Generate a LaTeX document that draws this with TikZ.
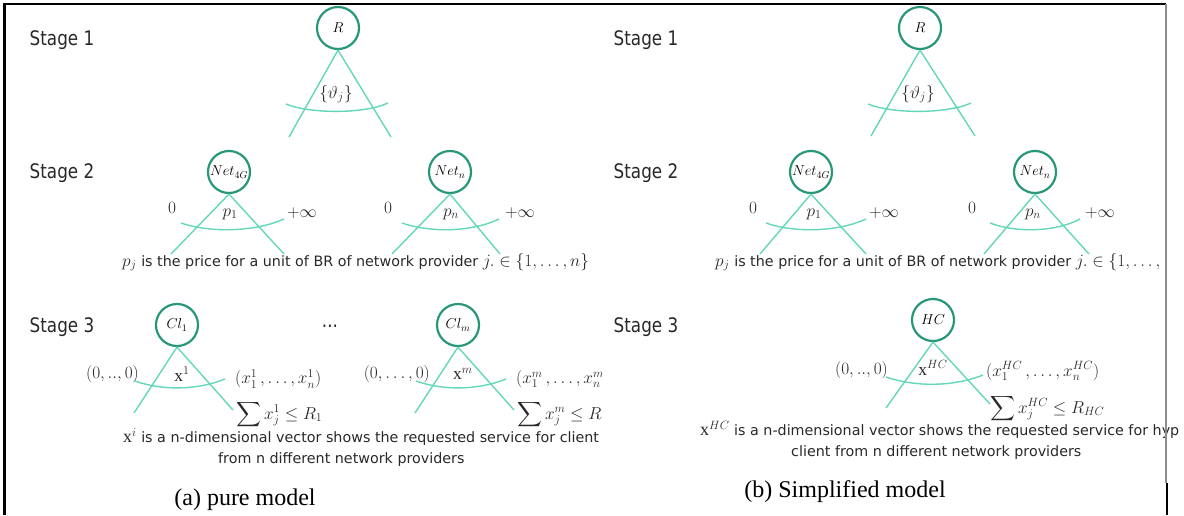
\documentclass[tikz,border=0pt]{standalone}
\usepackage{fontspec}
\usepackage{exscale}
\setmainfont{Liberation Serif}
\newfontfamily\labfont{DejaVu Sans}
\newfontfamily\stagefont[FakeStretch=0.84]{DejaVu Sans}
\newcommand{\mth}[1]{{\fontsize{18}{18}\selectfont$#1$}}
\definecolor{circc}{RGB}{40,150,120}
\definecolor{linc}{RGB}{100,215,185}
\definecolor{txtc}{RGB}{40,40,40}
\definecolor{framegray}{RGB}{140,140,140}
\begin{document}
\begin{tikzpicture}[x=1pt,y=-1pt,
  circ/.style={circle, draw=circc, line width=2.2pt, minimum size=42pt, inner sep=0pt, font=\fontsize{14}{14}\selectfont},
  leg/.style={draw=linc, line width=1.4pt},
  stagelab/.style={font=\stagefont\fontsize{20}{24}\selectfont, text=txtc, inner sep=0pt},
  lab/.style={font=\labfont\fontsize{14.3}{18}\selectfont, text=txtc, inner sep=0pt},
  mlab/.style={font=\fontsize{17}{19}\selectfont, text=txtc, inner sep=0pt},
  vlab/.style={font=\fontsize{17.5}{20}\selectfont, text=txtc, inner sep=0pt},
  sumlab/.style={font=\fontsize{16.5}{20}\selectfont, text=txtc, inner sep=0pt},
  captext/.style={font=\fontsize{24}{28}\selectfont, inner sep=0pt},
  frameline/.style={line width=2.5pt}]
\useasboundingbox (0,0) rectangle (1184,515);
% ---------------- left panel
\begin{scope}
\clip (0,0) rectangle (601,515);
\node[stagelab] (s1a) at (62,40) {Stage 1};
\node[stagelab] (s2a) at (62,173) {Stage 2};
\node[stagelab] (s3a) at (62,327) {Stage 3};
% stage 1
\node[circ] (Ra) at (338,28) {$R$};
\coordinate (Ral) at (289,137); \coordinate (Rar) at (391,137);
\draw[leg] (Ra.south) -- (Ral); \draw[leg] (Ra.south) -- (Rar);
\coordinate (Raa) at (286,104); \coordinate (Rab) at (388,103);
\draw[leg] (Raa) .. controls (310,114) and (365,114) .. (Rab);
\node[mlab] (tha) at (336,94) {$\{\vartheta_j\}$};
% stage 2
\node[circ] (N1a) at (229,172) {$Net_{4G}$};
\coordinate (N1al) at (171,254); \coordinate (N1ar) at (284,254);
\draw[leg] (N1a.south) -- (N1al); \draw[leg] (N1a.south) -- (N1ar);
\coordinate (N1aa) at (181,223); \coordinate (N1ab) at (284,219);
\draw[leg] (N1aa) .. controls (210,233) and (255,232) .. (N1ab);
\node[mlab] (z1a) at (172,208) {$0$};
\node[mlab] (p1a) at (230,214) {$p_1$};
\node[mlab] (i1a) at (302,213) {$+\infty$};
\node[circ] (N2a) at (450,172) {$Net_n$};
\coordinate (N2al) at (392,254); \coordinate (N2ar) at (500,254);
\draw[leg] (N2a.south) -- (N2al); \draw[leg] (N2a.south) -- (N2ar);
\coordinate (N2aa) at (402,223); \coordinate (N2ab) at (499,219);
\draw[leg] (N2aa) .. controls (431,233) and (472,232) .. (N2ab);
\node[mlab] (z2a) at (388,208) {$0$};
\node[mlab] (p2a) at (451,214) {$p_n$};
\node[mlab] (i2a) at (520,213) {$+\infty$};
\node[lab, anchor=west] (pja) at (122,262) {\mth{p_j} is the price for a unit of BR of network provider \mth{j.\in\{1,\dots,n\}}};
% stage 3
\node[circ] (C1a) at (177,325) {$Cl_1$};
\node[stagelab] (dots) at (330,326) {...};
\coordinate (C1al) at (134,413); \coordinate (C1ar) at (233,410);
\draw[leg] (C1a.south) -- (C1al); \draw[leg] (C1a.south) -- (C1ar);
\coordinate (C1aa) at (135,381); \coordinate (C1ab) at (225,379);
\draw[leg] (C1aa) .. controls (163,391) and (198,390) .. (C1ab);
\node[vlab, anchor=east] (o1a) at (139,374) {$(0,..,0)$};
\node[vlab] (x1a) at (182,374) {$\mathrm{x}^1$};
\node[vlab, anchor=west] (v1a) at (235,379) {$(x_1^1\,,\dots,x_n^1)$};
\node[sumlab, anchor=west] (q1a) at (236,415) {$\displaystyle\sum x_j^1\le R_1$};
\node[circ] (C2a) at (458,325) {$Cl_m$};
\coordinate (C2al) at (415,413); \coordinate (C2ar) at (514,410);
\draw[leg] (C2a.south) -- (C2al); \draw[leg] (C2a.south) -- (C2ar);
\coordinate (C2aa) at (416,381); \coordinate (C2ab) at (506,379);
\draw[leg] (C2aa) .. controls (444,391) and (479,390) .. (C2ab);
\node[vlab, anchor=east] (o2a) at (430,374) {$(0,\dots,0)$};
\node[vlab] (x2a) at (463,374) {$\mathrm{x}^m$};
\node[vlab, anchor=west] (v2a) at (516,379) {$(x_1^m\,,\dots,x_n^m)$};
\node[sumlab, anchor=west] (q2a) at (517,415) {$\displaystyle\sum x_j^m\le R_m$};
\node[lab, anchor=west] (xia) at (123,437) {\mth{\mathrm{x}^i} is a n-dimensional vector shows the requested service for client \mth{i}};
\node[lab, anchor=west] (fra) at (218,460) {from n different network providers};
\node[captext] (capa) at (245,500) {(a) pure model};
\end{scope}
% ---------------- right panel
\node[stagelab] (s1b) at (646,40) {Stage 1};
\node[stagelab] (s2b) at (646,173) {Stage 2};
\node[stagelab] (s3b) at (646,327) {Stage 3};
\node[circ] (Rb) at (920,28) {$R$};
\coordinate (Rbl) at (871,136); \coordinate (Rbr) at (975,136);
\draw[leg] (Rb.south) -- (Rbl); \draw[leg] (Rb.south) -- (Rbr);
\coordinate (Rba) at (868,104); \coordinate (Rbb) at (971,103);
\draw[leg] (Rba) .. controls (892,114) and (947,114) .. (Rbb);
\node[mlab] (thb) at (918,94) {$\{\vartheta_j\}$};
\node[circ] (N1b) at (811,172) {$Net_{4G}$};
\coordinate (N1bl) at (760,254); \coordinate (N1br) at (866,254);
\draw[leg] (N1b.south) -- (N1bl); \draw[leg] (N1b.south) -- (N1br);
\coordinate (N1ba) at (766,223); \coordinate (N1bb) at (866,219);
\draw[leg] (N1ba) .. controls (794,233) and (838,232) .. (N1bb);
\node[mlab] (z1b) at (753,208) {$0$};
\node[mlab] (p1b) at (814,214) {$p_1$};
\node[mlab] (i1b) at (884,213) {$+\infty$};
\node[circ] (N2b) at (1035,172) {$Net_n$};
\coordinate (N2bl) at (984,254); \coordinate (N2br) at (1089,254);
\draw[leg] (N2b.south) -- (N2bl); \draw[leg] (N2b.south) -- (N2br);
\coordinate (N2ba) at (990,223); \coordinate (N2bb) at (1080,219);
\draw[leg] (N2ba) .. controls (1016,233) and (1056,232) .. (N2bb);
\node[mlab] (z2b) at (972,208) {$0$};
\node[mlab] (p2b) at (1033,214) {$p_n$};
\node[mlab] (i2b) at (1100,213) {$+\infty$};
\node[lab, anchor=west] (pjb) at (715,262) {\mth{p_j} is the price for a unit of BR of network provider \mth{j.\in\{1,\dots,}};
\node[circ] (HC) at (933,320) {$HC$};
\coordinate (HCl) at (886,408); \coordinate (HCr) at (990,404);
\draw[leg] (HC.south) -- (HCl); \draw[leg] (HC.south) -- (HCr);
\coordinate (HCa) at (886,377); \coordinate (HCb) at (983,375);
\draw[leg] (HCa) .. controls (915,387) and (953,387) .. (HCb);
\node[vlab, anchor=east] (ob) at (888,370) {$(0,..,0)$};
\node[vlab] (xb) at (933,368) {$\mathrm{x}^{HC}$};
\node[vlab, anchor=west] (vb) at (986,371) {$(x_1^{HC}\,,\dots,x_n^{HC})$};
\node[sumlab, anchor=west] (qb) at (990,409) {$\displaystyle\sum x_j^{HC}\le R_{HC}$};
\node[lab, anchor=west] (xib) at (700,430) {\mth{\mathrm{x}^{HC}} is a n-dimensional vector shows the requested service for hyp};
\node[lab, anchor=west] (frb) at (791,453) {client from n different network providers};
\node[captext] (capb) at (845,492) {(b) Simplified model};
% ---------------- frame
\draw[frameline] (4.5,3) -- (4.5,515);
\draw[line width=2pt] (3,4) -- (1166,4);
\draw[frameline, draw=framegray] (1166,4) -- (1166,483);
\draw[frameline] (1167,483) -- (1167,515);
\end{tikzpicture}
\end{document}
